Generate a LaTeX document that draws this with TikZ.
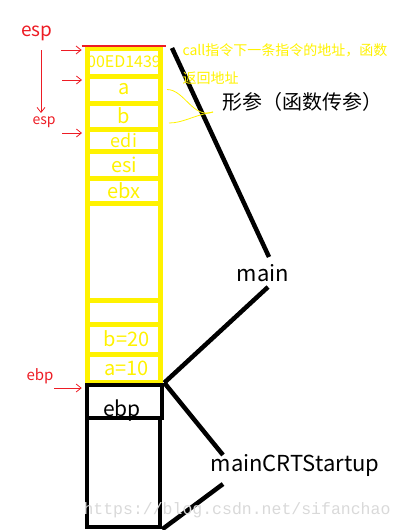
\documentclass[tikz,border=0pt]{standalone}
\usepackage{fontspec}
\setmainfont{Noto Sans CJK SC}
\setmonofont{Liberation Mono}
\usepackage{xcolor}
\definecolor{paintyellow}{RGB}{255,242,0}
\definecolor{paintred}{RGB}{237,28,36}
\usepackage{tikz}
\usetikzlibrary{arrows.meta}

\begin{document}
\begin{tikzpicture}[x=1pt,y=-1pt,>={Straight Barb[length=5pt,width=8pt]},line width=1pt]
              \tikzstyle{cell}=[draw=paintyellow,line width=5pt,minimum width=73pt,inner sep=0pt,text=paintyellow,font=\fontsize{20}{20}\selectfont]
              \tikzstyle{frame}=[draw=black,line width=4.5pt,minimum width=75pt,inner sep=0pt,font=\fontsize{20}{20}\selectfont]
              \tikzstyle{link}=[draw=black,line width=4.5pt]
              \tikzstyle{pointer}=[->,draw=paintred,line width=0.8pt,shorten >=3pt]
              \tikzstyle{rednote}=[text=paintred,inner sep=0pt]
              \tikzstyle{hint}=[draw=paintyellow,line width=0.8pt]
              \tikzstyle{big}=[font=\fontsize{22}{22}\selectfont,inner sep=0pt]

              \useasboundingbox (0,0) rectangle (404,530);

              % the stack of main
              \node[cell,minimum height=28pt] (ret)   at (124,62)    {\fontsize{16}{16}\selectfont 00ED1439};
              \node[cell,minimum height=27pt] (acell) at (124,89.5)  {a};
              \node[cell,minimum height=26pt] (bcell) at (124,116)   {b};
              \node[cell,minimum height=22pt] (edi)   at (124,140)   {\fontsize{18}{18}\selectfont edi};
              \node[cell,minimum height=27pt] (esi)   at (124,164.5) {esi};
              \node[cell,minimum height=25pt] (ebx)   at (124,190.5) {ebx};
              \node[cell,minimum height=97pt] (local) at (124,251.5) {};
              \node[cell,minimum height=24pt] (spare) at (124,312)   {};
              \node[cell,minimum height=30pt] (b20)   at (124,339)   {\hspace{5pt}b=20};
              \node[cell,minimum height=28pt] (a10)   at (124,368)   {\hspace{5pt}a=10};
              \draw[paintred,line width=2pt,shorten <=-3pt,shorten >=-3pt] (ret.north west) -- (ret.north east);

              % the frame of mainCRTStartup
              \node[frame,minimum height=33pt]  (ebpbox) at (124.5,401.5) {};
              \node[frame,minimum width=73pt,minimum height=109pt] (caller) at (123.5,472.5) {};
              \node[font=\fontsize{21}{21}\selectfont,inner sep=0pt] (ebptext) at (122,411) {ebp};

              \node[big] (main) at (263,273) {main};
              \node[big] (crt)  at (295,465) {mainCRTStartup};
              \coordinate (topend) at (172,48);
              \coordinate (mainhi) at (269,257);
              \coordinate (mainlo) at (268,287);
              \coordinate (crthi)  at (223,455);
              \coordinate (crtlo)  at (223,484);
              \draw[link] (topend) -- (mainhi);
              \draw[link] (mainlo) -- (ebpbox.north east);
              \draw[link] (ebpbox.north east) -- (crthi);
              \draw[link] (crtlo) -- (caller.south east);

              % notes
              \node[anchor=north west,text=paintyellow,font=\fontsize{14}{28}\selectfont,align=left,inner sep=0pt] (calltext) at (182,43) {call指令下一条指令的地址，函数\\返回地址};
              \node[font=\fontsize{20}{20}\selectfont,inner sep=0pt] (formal) at (302,102) {形参（函数传参）};
              \coordinate (formalpt) at (213,112);
              \draw[hint,shorten <=4pt] (acell.east) to[out=0,in=200] (formalpt);
              \draw[hint,shorten <=6pt] (bcell.east) ++(0,7) to[out=0,in=190] (formalpt);

              % registers
              \node[rednote,font=\fontsize{19}{19}\selectfont] (esptop) at (37,33)  {esp};
              \node[rednote,font=\fontsize{14}{14}\selectfont] (espnew) at (44,122) {esp};
              \node[rednote,font=\fontsize{15}{15}\selectfont] (ebpreg) at (40,376) {ebp};
              \coordinate (spline) at (41,50);
              \coordinate (pret) at (61,50);
              \coordinate (pa)   at (62,80);
              \coordinate (pedi) at (62,133);
              \coordinate (pebp) at (54,388);
              \draw[pointer] (spline) -- (spline |- espnew.north);
              \draw[pointer] (pret) -- (pret -| ret.west);
              \draw[pointer] (pa) -- (pa -| acell.west);
              \draw[pointer] (pedi) -- (pedi -| edi.west);
              \draw[pointer] (pebp) -- (pebp -| ebpbox.west);

              \node[text=gray!30,font=\ttfamily\fontsize{16.5}{16}\selectfont,inner sep=0pt] (watermark) at (237,510) {https://blog.csdn.net/sifanchao};
\end{tikzpicture}
\end{document}
